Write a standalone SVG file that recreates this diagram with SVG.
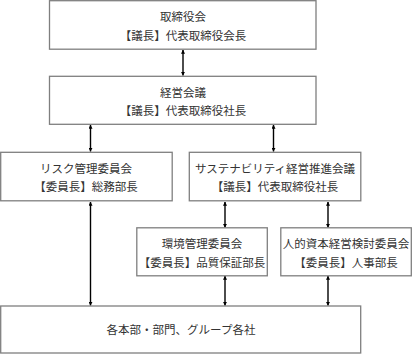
<svg xmlns="http://www.w3.org/2000/svg" width="412" height="354" viewBox="0 0 412 354">
<style>
.box{fill:#fff;stroke:#7f7f7f;stroke-width:1.3}
.t{font-family:"Noto Sans CJK JP","Noto Sans CJK SC",sans-serif;font-size:11.5px;fill:#333;text-anchor:middle}
.c{stroke:#000;stroke-width:1.4;fill:none;marker-start:url(#a);marker-end:url(#a)}
</style>
<defs>
<marker id="a" viewBox="0 0 6 6" refX="5.5" refY="3" markerWidth="4" markerHeight="4" orient="auto-start-reverse" markerUnits="userSpaceOnUse">
<path d="M0,0L6,3L0,6z" fill="#000"/>
</marker>
</defs>
<g id="connectors">
<line class="c" x1="183" y1="50" x2="183" y2="75.5"/>
<line class="c" x1="90.5" y1="125" x2="90.5" y2="151.5"/>
<line class="c" x1="273.5" y1="125" x2="273.5" y2="151.5"/>
<line class="c" x1="225" y1="202" x2="225" y2="227.5"/>
<line class="c" x1="328" y1="202" x2="328" y2="227.5"/>
<line class="c" x1="90.5" y1="202" x2="90.5" y2="305.5"/>
<line class="c" x1="225" y1="276" x2="225" y2="305.5"/>
<line class="c" x1="328" y1="276" x2="328" y2="305.5"/>
</g>
<g id="board">
<rect class="box" x="49.5" y="0.7" width="266.5" height="48.5"/>
<text class="t" x="183" y="21">取締役会</text>
<text class="t" x="183" y="39.5">【議長】代表取締役会長</text>
</g>
<g id="mgmt">
<rect class="box" x="49.5" y="76.3" width="266.5" height="48"/>
<text class="t" x="183" y="96.5">経営会議</text>
<text class="t" x="183" y="115">【議長】代表取締役社長</text>
</g>
<g id="risk">
<rect class="box" x="0.7" y="152.3" width="171.5" height="48.5"/>
<text class="t" x="86" y="172.5">リスク管理委員会</text>
<text class="t" x="86" y="191">【委員長】総務部長</text>
</g>
<g id="sustain">
<rect class="box" x="189.3" y="152.3" width="171.5" height="48.5"/>
<text class="t" x="275" y="172.5">サステナビリティ経営推進会議</text>
<text class="t" x="275" y="191">【議長】代表取締役社長</text>
</g>
<g id="env">
<rect class="box" x="136.8" y="227.8" width="130.5" height="48"/>
<text class="t" x="202" y="248">環境管理委員会</text>
<text class="t" x="202" y="266.5">【委員長】品質保証部長</text>
</g>
<g id="hr">
<rect class="box" x="280.8" y="227.8" width="130.5" height="48"/>
<text class="t" x="346" y="248">人的資本経営検討委員会</text>
<text class="t" x="346" y="266.5">【委員長】人事部長</text>
</g>
<g id="all">
<rect class="box" x="0.7" y="306" width="360" height="47"/>
<text class="t" x="181" y="333.5">各本部・部門、グループ各社</text>
</g>
</svg>
